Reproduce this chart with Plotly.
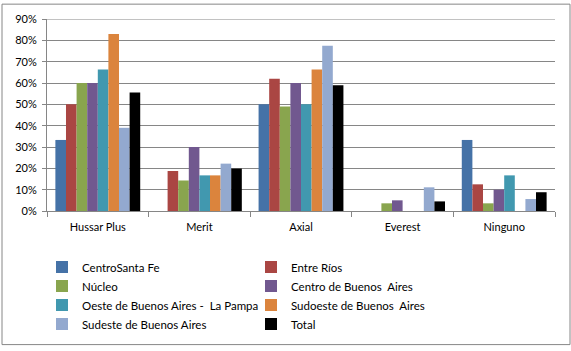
import plotly.graph_objects as go

categories = ["Hussar Plus", "Merit", "Axial", "Everest", "Ninguno"]
series_names = ["CentroSanta Fe", "Entre Ríos", "Núcleo", "Centro de Buenos  Aires",
                "Oeste de Buenos Aires -  La Pampa", "Sudoeste de Buenos  Aires",
                "Sudeste de Buenos Aires", "Total"]
centro_santa_fe = [0.333, 0.0, 0.50, 0.0, 0.333]
entre_rios = [0.50, 0.1875, 0.62, 0.0, 0.125]
nucleo = [0.60, 0.143, 0.49, 0.036, 0.036]
centro_ba = [0.60, 0.30, 0.60, 0.05, 0.10]
oeste_ba = [0.663, 0.167, 0.50, 0.0, 0.167]
sudoeste_ba = [0.83, 0.167, 0.663, 0.0, 0.0]
sudeste_ba = [0.39, 0.222, 0.775, 0.111, 0.056]
total = [0.556, 0.199, 0.589, 0.045, 0.088]
series_values = [centro_santa_fe, entre_rios, nucleo, centro_ba, oeste_ba,
                 sudoeste_ba, sudeste_ba, total]
colors = ["#4572A7", "#AA4643", "#89A54E", "#71588F", "#4198AF", "#DB843D", "#93A9CF", "#000000"]
y_ticks = [i / 10 for i in range(10)]
y_tick_labels = [f"{i*10}%" for i in range(10)]

fig = go.Figure()
for name, vals, c in zip(series_names, series_values, colors):
    fig.add_trace(go.Bar(x=categories, y=vals, name=name, marker_color=c,
                         marker_line_width=0))

W, H = 571, 351
L, R, T, B = 47, 16, 17, 140
pw, ph = W - L - R, H - T - B

def px_to_paper(x, y):
    return (x - L) / pw, (H - B - y) / ph

x0, y0 = px_to_paper(2, 2)
x1, y1 = px_to_paper(570, 346)
lx, ly = px_to_paper(42, 253)

fig.update_layout(
    width=W, height=H,
    margin=dict(l=L, r=R, t=T, b=B, pad=0),
    paper_bgcolor="white", plot_bgcolor="white",
    font=dict(family="Lato, Liberation Sans, sans-serif", size=11, color="#000000"),
    barmode="group", bargap=0.165, bargroupgap=0,
    showlegend=True,
    legend=dict(orientation="h", x=lx, xanchor="left", y=ly, yanchor="top",
                entrywidth=164, entrywidthmode="pixels",
                font=dict(size=11.5), itemwidth=30, traceorder="normal"),
    shapes=[dict(type="rect", xref="paper", yref="paper", x0=x0, y0=y1, x1=x1, y1=y0,
                 line=dict(color="#868686", width=1), layer="below")],
)
fig.update_xaxes(showline=True, linecolor="#868686", linewidth=1,
                 ticks="outside", tickson="boundaries", ticklen=5, tickcolor="#868686",
                 tickfont=dict(size=11), showgrid=False, ticklabelstandoff=6)
fig.update_yaxes(range=[0, 0.9], tickvals=y_ticks, ticktext=y_tick_labels,
                 showline=True, linecolor="#868686", linewidth=1,
                 showgrid=True, gridcolor="#868686", gridwidth=1,
                 ticks="outside", ticklen=4, tickcolor="#868686",
                 tickfont=dict(size=11), zeroline=False, ticklabelstandoff=3)
fig.add_hline(y=0.9, line_color="#868686", line_width=1)

fig.write_html("out.html")
